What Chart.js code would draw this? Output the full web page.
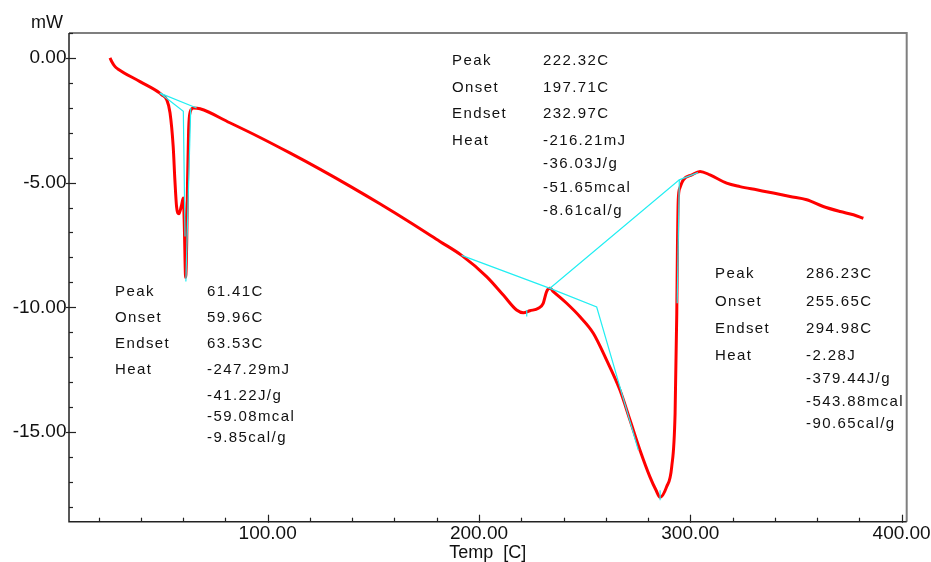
<!DOCTYPE html>
<html>
<head>
<meta charset="utf-8">
<script src="https://cdn.jsdelivr.net/npm/chart.js@4.4.1/dist/chart.umd.min.js"></script>
<style>
  html, body { margin: 0; padding: 0; background: #ffffff; }
  #wrap { width: 931px; height: 562px; position: relative; }
</style>
</head>
<body>
<div id="wrap"><canvas id="c"></canvas></div>
<script>
// ---- Data ----
const temps = [25.4, 26.2, 27.7, 29.1, 39.6, 49.0, 49.8, 52.2, 53.8, 55.3, 56.1, 56.9, 58.0, 59.3, 60.1, 60.5, 61.2, 61.7, 62.1, 62.6, 63.4, 64.9, 68.0, 82.1, 96.4, 110.5, 124.7, 138.9, 153.1, 167.3, 181.5, 191.8, 203.6, 211.5, 217.8, 221.0, 224.1, 228.1, 230.4, 232.0, 233.6, 235.2, 241.5, 247.8, 254.1, 260.4, 266.7, 271.5, 276.2, 280.9, 283.8, 285.7, 288.8, 291.2, 292.8, 293.6, 293.9, 294.3, 295.1, 296.7, 300.7, 304.6, 309.3, 317.2, 323.5, 331.4, 339.3, 347.2, 355.1, 362.9, 370.9, 377.2, 381.9];
const heatFlow = [0.00, -0.14, -0.34, -0.44, -0.95, -1.41, -1.47, -1.67, -2.20, -3.55, -4.89, -5.96, -6.25, -5.89, -5.62, -6.49, -8.80, -7.40, -4.90, -2.90, -2.15, -2.01, -2.04, -2.60, -3.19, -3.81, -4.46, -5.14, -5.85, -6.59, -7.36, -7.92, -8.77, -9.51, -10.11, -10.22, -10.14, -10.04, -9.84, -9.37, -9.24, -9.37, -9.84, -10.38, -11.04, -12.12, -13.32, -14.53, -15.73, -16.80, -17.34, -17.62, -17.20, -16.40, -14.26, -10.24, -7.70, -5.69, -5.21, -4.89, -4.69, -4.55, -4.69, -5.02, -5.16, -5.29, -5.42, -5.56, -5.69, -5.96, -6.16, -6.29, -6.43];

// analysis (baseline / tangent) construction lines
const p1BaseX = [49.0, 66.4];            const p1BaseY = [-1.41, -2.01];
const p1OnsetX = [49.0, 60.1, 60.9];     const p1OnsetY = [-1.41, -2.14, -7.16];
const p1EndX = [63.6, 61.3];             const p1EndY = [-2.01, -8.97];
const p2BaseX = [191.8, 233.6, 255.7, 275.4]; const p2BaseY = [-7.92, -9.24, -9.99, -15.73];
const p2TickX = [222.6, 222.6];          const p2TickY = [-10.11, -10.37];
const p3BaseX = [233.6, 294.8, 303.6];   const p3BaseY = [-9.24, -4.89, -4.60];
const p3EndX = [294.8, 293.8];           const p3EndY = [-4.89, -9.84];
const p3TickX = [285.7, 285.7];          const p3TickY = [-17.34, -17.74];

// axis ticks
const xMajorTicks = [100, 200, 300, 400];
const yMajorTicks = [0, -5, -10, -15];

// result annotations
const resultLabels = ["Peak", "Onset", "Endset", "Heat"];
const peak1Values = ["61.41C", "59.96C", "63.53C", "-247.29mJ", "-41.22J/g", "-59.08mcal", "-9.85cal/g"];
const peak2Values = ["222.32C", "197.71C", "232.97C", "-216.21mJ", "-36.03J/g", "-51.65mcal", "-8.61cal/g"];
const peak3Values = ["286.23C", "255.65C", "294.98C", "-2.28J", "-379.44J/g", "-543.88mcal", "-90.65cal/g"];

// ---- Build datasets ----
const toPts = (xs, ys) => xs.map((x, i) => ({ x: x, y: ys[i] }));
const cyanSet = (xs, ys) => ({
  data: toPts(xs, ys), borderColor: '#22EEF2', borderWidth: 1.2,
  pointRadius: 0, showLine: true, tension: 0, order: 0
});

const FONT = "'Liberation Sans', Arial, sans-serif";

const blocks = [
  { lx: 115, vx: 207, ys: [291.5, 318, 344, 370, 396, 417, 438], vals: peak1Values },
  { lx: 452, vx: 543, ys: [61, 88, 114, 141, 164, 188, 211], vals: peak2Values },
  { lx: 715, vx: 806, ys: [274, 302, 329, 356, 379, 401.5, 423.5], vals: peak3Values }
];

const framePlugin = {
  id: 'frame',
  afterDatasetsDraw(chart) {
    const ctx = chart.ctx;
    const a = chart.chartArea;
    const xs = chart.scales.x, ys = chart.scales.y;
    ctx.save();
    // top + right gray border
    ctx.strokeStyle = '#7f7f7f';
    ctx.lineWidth = 2;
    ctx.beginPath();
    ctx.moveTo(a.left, a.top); ctx.lineTo(a.right, a.top); ctx.lineTo(a.right, a.bottom);
    ctx.stroke();
    // left + bottom black axes
    ctx.strokeStyle = '#222';
    ctx.lineWidth = 1.5;
    ctx.beginPath();
    ctx.moveTo(a.left, a.top); ctx.lineTo(a.left, a.bottom); ctx.lineTo(a.right, a.bottom);
    ctx.stroke();
    // y ticks (minor every 1, major every 5)
    ctx.lineWidth = 1.2;
    for (let v = Math.ceil(ys.min); v <= Math.floor(ys.max); v++) {
      const py = Math.round(ys.getPixelForValue(v)) + 0.5;
      const major = yMajorTicks.includes(v);
      ctx.beginPath();
      ctx.moveTo(major ? a.left - 3 : a.left, py);
      ctx.lineTo(a.left + (major ? 7 : 4), py);
      ctx.stroke();
    }
    // x ticks (minor every 20, major every 100)
    for (let v = 20; v <= xs.max; v += 20) {
      if (v < xs.min) continue;
      const px = Math.round(xs.getPixelForValue(v)) + 0.5;
      const major = xMajorTicks.includes(v);
      ctx.beginPath();
      ctx.moveTo(px, a.bottom + (major ? 1 : 0));
      ctx.lineTo(px, a.bottom - (major ? 7 : 4));
      ctx.stroke();
    }
    // unit label
    ctx.fillStyle = '#111';
    ctx.font = '18px ' + FONT;
    ctx.textAlign = 'left';
    ctx.textBaseline = 'middle';
    ctx.fillText('mW', 31, 23);
    // result annotations
    ctx.font = '15px ' + FONT;
    try { ctx.letterSpacing = '1.4px'; } catch (e) {}
    blocks.forEach(b => {
      resultLabels.forEach((t, i) => ctx.fillText(t, b.lx, b.ys[i]));
      b.vals.forEach((t, i) => ctx.fillText(t, b.vx, b.ys[i]));
    });
    ctx.restore();
  }
};

new Chart(document.getElementById('c'), {
  type: 'scatter',
  data: {
    datasets: [
      { data: toPts(temps, heatFlow), borderColor: '#FF0000', borderWidth: 3,
        pointRadius: 0, showLine: true, cubicInterpolationMode: 'monotone', order: 1 },
      cyanSet(p1BaseX, p1BaseY), cyanSet(p1OnsetX, p1OnsetY), cyanSet(p1EndX, p1EndY),
      cyanSet(p2BaseX, p2BaseY), cyanSet(p2TickX, p2TickY),
      cyanSet(p3BaseX, p3BaseY), cyanSet(p3EndX, p3EndY), cyanSet(p3TickX, p3TickY)
    ]
  },
  options: {
    responsive: true,
    maintainAspectRatio: false,
    animation: false,
    layout: { padding: { left: 0, top: 33, right: 24.3, bottom: 0 } },
    plugins: { legend: { display: false }, tooltip: { enabled: false } },
    scales: {
      x: {
        type: 'linear', min: 6.0, max: 402.4,
        grid: { display: false, drawTicks: false, tickLength: 0 },
        border: { display: false },
        ticks: { padding: 1, color: '#111', autoSkip: false,
                 font: { family: FONT, size: 19 }, maxRotation: 0,
                 callback: v => Number(v).toFixed(2) },
        afterBuildTicks(s) { s.ticks = xMajorTicks.map(v => ({ value: v })); },
        title: { display: true, text: 'Temp  [C]', color: '#111',
                 font: { family: FONT, size: 18, lineHeight: 1.0 }, padding: { top: 0, bottom: 0 } },
        afterFit(s) { s.height = 40.3; s.paddingLeft = 0; s.paddingRight = 0; }
      },
      y: {
        type: 'linear', min: -18.6, max: 1.0,
        grid: { display: false, drawTicks: false, tickLength: 0 },
        border: { display: false },
        ticks: { padding: 2.5, color: '#111', autoSkip: false,
                 font: { family: FONT, size: 19 },
                 callback: v => Number(v).toFixed(2) },
        afterBuildTicks(s) { s.ticks = yMajorTicks.map(v => ({ value: v })); },
        afterFit(s) { s.width = 69; s.paddingTop = 0; s.paddingBottom = 0; }
      }
    }
  },
  plugins: [framePlugin]
});
</script>
</body>
</html>
